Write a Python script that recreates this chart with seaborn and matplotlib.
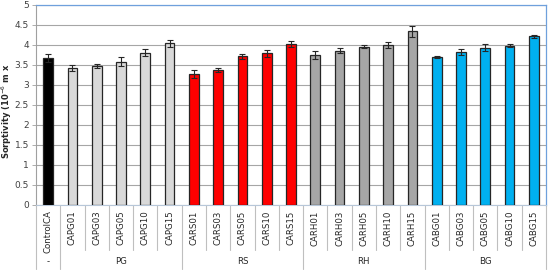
import numpy as np
import pandas as pd
import matplotlib
matplotlib.use("Agg")
import matplotlib.pyplot as plt
import matplotlib.transforms as mtransforms
import seaborn as sns

# ── Data ──────────────────────────────────────────────────
samples = [
    "ControlCA",
    "CAPG01", "CAPG03", "CAPG05", "CAPG10", "CAPG15",
    "CARS01", "CARS03", "CARS05", "CARS10", "CARS15",
    "CARH01", "CARH03", "CARH05", "CARH10", "CARH15",
    "CABG01", "CABG03", "CABG05", "CABG10", "CABG15",
]
sorptivity = [
    3.67,
    3.43, 3.47, 3.58, 3.81, 4.04,
    3.27, 3.38, 3.72, 3.79, 4.03,
    3.75, 3.86, 3.96, 4.00, 4.34,
    3.70, 3.82, 3.93, 3.98, 4.22,
]
errors = [
    0.10,
    0.07, 0.05, 0.11, 0.08, 0.08,
    0.10, 0.05, 0.06, 0.08, 0.07,
    0.10, 0.07, 0.03, 0.07, 0.13,
    0.03, 0.07, 0.09, 0.04, 0.04,
]
groups = ["-", "PG", "RS", "RH", "BG"]
group_sizes = [1, 5, 5, 5, 5]
group_colors = {"-": "#000000", "PG": "#D9D9D9", "RS": "#FF0000",
                "RH": "#A6A6A6", "BG": "#00B0F0"}

sample_group = [g for g, n in zip(groups, group_sizes) for _ in range(n)]
df = pd.DataFrame({"sample": samples, "value": sorptivity,
                   "err": errors, "group": sample_group})

# ── Figure ────────────────────────────────────────────────
sns.set_style("white")
plt.rcParams["font.family"] = ["DejaVu Sans"]

fig = plt.figure(figsize=(5.5, 2.74), dpi=100)
ax = fig.add_axes([36 / 550, 1 - 205 / 274, 510 / 550, 200 / 274])

palette = {s: group_colors[g] for s, g in zip(df["sample"], df["group"])}
sns.barplot(data=df, x="sample", y="value", hue="sample", palette=palette,
            legend=False, width=0.4, saturation=1, edgecolor="#262626",
            linewidth=0.9, ax=ax, zorder=3)
ax.errorbar(np.arange(len(df)), df["value"], yerr=df["err"], fmt="none",
            ecolor="#262626", elinewidth=0.8, capsize=2.5, capthick=0.8,
            zorder=4)

ax.set_ylim(0, 5)
ax.set_xlim(-0.5, len(df) - 0.5)
ax.set_yticks(np.arange(0, 5.01, 0.5))
ax.set_yticklabels(["0", "0.5", "1", "1.5", "2", "2.5", "3", "3.5", "4", "4.5", "5"],
                   fontsize=6.5, color="#404040")
ax.yaxis.grid(True, color="#A6A6A6", linewidth=0.8, zorder=0)
ax.set_axisbelow(True)
ax.tick_params(axis="y", length=3, width=0.6, color="#A0A0A0", pad=2, left=True)
ax.set_xticks([])
ax.set_xlabel("")
ax.set_ylabel("Sorptivity (10$^{-6}$ m x", fontsize=6, fontweight="bold")
ax.yaxis.set_label_coords(-0.043, 0.47)

for side in ("top", "right"):
    ax.spines[side].set_color("#6FA0DC")
    ax.spines[side].set_linewidth(0.9)
ax.spines["left"].set_color("#A0A0A0")
ax.spines["bottom"].set_color("#B7C7D9")
for sp in ax.spines.values():
    sp.set_visible(True)

# ── Two-level category axis ──────────────────────────────
trans = mtransforms.blended_transform_factory(ax.transData, ax.transAxes)
sep_col = "#BFBFBF"
short_bot = -(250 - 205) / 200
long_bot = -(269 - 205) / 200

for i, name in enumerate(samples):
    ax.text(i, -0.028, name, transform=trans, rotation=90, ha="center",
            va="top", fontsize=6.2, color="#262626")

group_edges = np.cumsum([0] + group_sizes)
for k in range(len(samples) + 1):
    bot = long_bot if k in group_edges else short_bot
    ax.plot([k - 0.5, k - 0.5], [0, bot], transform=trans, color=sep_col,
            linewidth=0.8, clip_on=False)

for g, a, b in zip(groups, group_edges[:-1], group_edges[1:]):
    ax.text((a + b - 1) / 2, -(262 - 205) / 200, g, transform=trans,
            ha="center", va="center", fontsize=6.2, color="#262626")

fig.savefig("out.png", dpi=100, facecolor="white")
